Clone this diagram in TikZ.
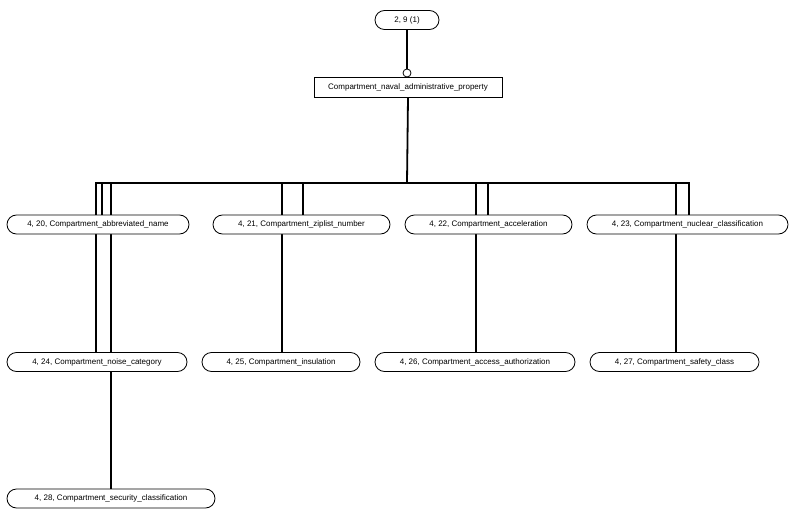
\documentclass[tikz,border=0pt]{standalone}
\usepackage{fontspec}
\setmainfont{Liberation Sans}
\usetikzlibrary{shapes.misc}
\pgfdeclarelayer{bg}
\pgfsetlayers{bg,main}

\begin{document}
\begin{tikzpicture}[x=1pt,y=-1pt,
    attr/.style={draw,line width=0.8pt,rounded rectangle,fill=white,
      minimum height=19pt,inner sep=0pt,font=\fontsize{8}{9}\selectfont},
    ent/.style={draw,line width=0.8pt,fill=white,minimum height=20pt,
      inner sep=0pt,font=\fontsize{8}{9}\selectfont},
    link/.style={line width=1.8pt,line cap=rect}]
  \useasboundingbox (0,0) rectangle (800,516);
  \node[attr,minimum width=64pt] (ref) at (407,20) {2, 9 (1)};
  \node[draw,circle,line width=0.8pt,fill=white,inner sep=0pt,minimum size=8pt] (dot) at (407,73) {};
  \node[ent,minimum width=188pt] (prop) at (408,87) {Compartment\_naval\_administrative\_property};
  %
  \node[attr,minimum width=182pt] (n20) at (98,224.5) {4, 20, Compartment\_abbreviated\_name};
  \node[attr,minimum width=177pt] (n21) at (301.5,224.5) {4, 21, Compartment\_ziplist\_number};
  \node[attr,minimum width=167pt] (n22) at (488.5,224.5) {4, 22, Compartment\_acceleration};
  \node[attr,minimum width=201pt] (n23) at (687.5,224.5) {4, 23, Compartment\_nuclear\_classification};
  \node[attr,minimum width=180pt] (n24) at (97,362) {4, 24, Compartment\_noise\_category};
  \node[attr,minimum width=158pt] (n25) at (281,362) {4, 25, Compartment\_insulation};
  \node[attr,minimum width=200pt] (n26) at (475,362) {4, 26, Compartment\_access\_authorization};
  \node[attr,minimum width=169pt] (n27) at (674.5,362) {4, 27, Compartment\_safety\_class};
  \node[attr,minimum width=208pt] (n28) at (111,498.5) {4, 28, Compartment\_security\_classification};
  %
  \begin{pgfonlayer}{bg}
    \coordinate (bus) at (407,183);
    \draw[line width=1.8pt] (ref.south) -- (dot.north);
    \draw[link] (prop.south) -- (bus);
    \foreach \n/\x in {20/102,21/303,22/488,23/689,24/96,25/282,26/476,27/676,28/111}
      \coordinate (b\n) at (\x,183);
    \draw[link] (b24) -- (b23);
    \foreach \n in {20,21,...,28}
      \draw[link] (b\n) -- (b\n |- n\n.north);
  \end{pgfonlayer}
\end{tikzpicture}
\end{document}
